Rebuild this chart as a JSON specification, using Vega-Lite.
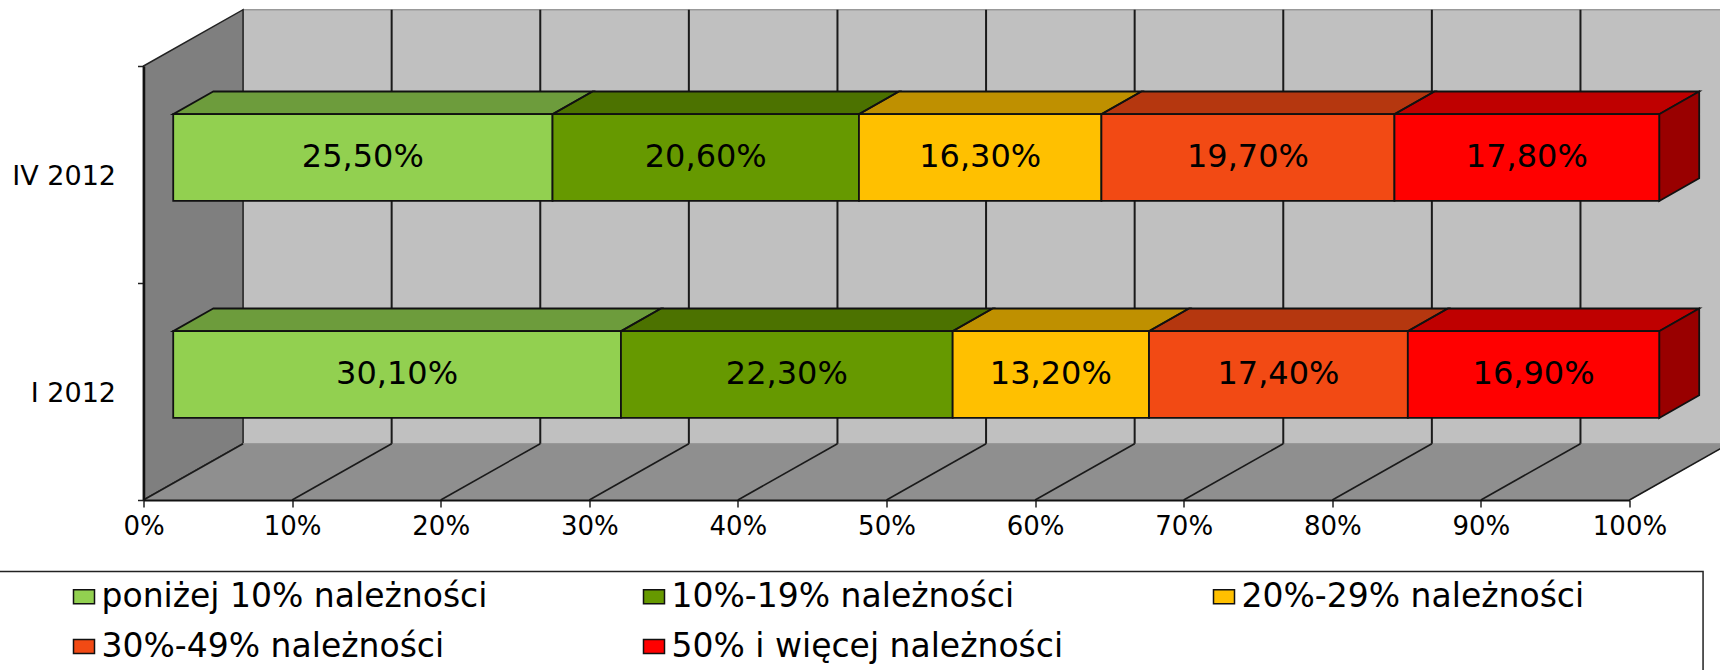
{
"$schema":"https://vega.github.io/schema/vega-lite/v6.json",
"autosize":{"type":"none"},
"width":1486,"height":434,
"padding":{"left":143.5,"top":66,"right":90.5,"bottom":170},
"background":"#ffffff",
"config":{"view":{"stroke":null},"font":"DejaVu Sans"},
"datasets":{
"gleb":[{"g":0},{"g":1}],
"siatka":[{"p":0},{"p":10},{"p":20},{"p":30},{"p":40},{"p":50},{"p":60},{"p":70},{"p":80},{"p":90},{"p":100}],
"udzialy":[
{"okres":"IV 2012","lp":1,"kategoria":"poniżej 10% należności","udzial":25.5},
{"okres":"IV 2012","lp":2,"kategoria":"10%-19% należności","udzial":20.6},
{"okres":"IV 2012","lp":3,"kategoria":"20%-29% należności","udzial":16.3},
{"okres":"IV 2012","lp":4,"kategoria":"30%-49% należności","udzial":19.7},
{"okres":"IV 2012","lp":5,"kategoria":"50% i więcej należności","udzial":17.8},
{"okres":"I 2012","lp":1,"kategoria":"poniżej 10% należności","udzial":30.1},
{"okres":"I 2012","lp":2,"kategoria":"10%-19% należności","udzial":22.3},
{"okres":"I 2012","lp":3,"kategoria":"20%-29% należności","udzial":13.2},
{"okres":"I 2012","lp":4,"kategoria":"30%-49% należności","udzial":17.4},
{"okres":"I 2012","lp":5,"kategoria":"50% i więcej należności","udzial":16.9}
]},
"layer":[
{"data":{"values":[{}]},
 "mark":{"type":"rect","fill":"#c0c0c0","stroke":"#999999","strokeWidth":1.5},
 "encoding":{
  "x":{"datum":6.7,"type":"quantitative","scale":{"domain":[0,100],"nice":false,"zero":false},
   "axis":{"title":null,"values":[0,10,20,30,40,50,60,70,80,90,100],"labelExpr":"datum.value+'%'","labelFont":"DejaVu Sans","labelFontSize":26,"labelColor":"#000000","labelPadding":6,"labelFlush":false,"tickSize":7,"tickColor":"#222222","tickWidth":1.5,"domainColor":"#111111","domainWidth":2,"grid":false,"zindex":1}},
  "x2":{"datum":106.7},
  "y":{"datum":0.2594,"type":"quantitative","scale":{"domain":[0,2],"nice":false,"zero":false},
   "axis":{"title":null,"values":[0,0.5,1,1.5,2],"labelExpr":"datum.value==1.5?'IV 2012':datum.value==0.5?'I 2012':''","labelFont":"DejaVu Sans","labelFontSize":27,"labelColor":"#000000","labelPadding":22,"labelOffset":2,"tickSize":6,"tickColor":"#222222","tickWidth":1.5,"tickOpacity":{"condition":{"test":"datum.value%1!==0","value":0},"value":1},"domainColor":"#111111","domainWidth":2.5,"grid":false,"zindex":1}},
  "y2":{"datum":2.2594}
 }},
{"data":{"name":"gleb"},
 "transform":[{"calculate":"datum.g*6.7","as":"x"},{"calculate":"datum.g*0.2594","as":"y"},{"calculate":"2+datum.g*0.2594","as":"y2"}],
 "mark":{"type":"area","orient":"vertical","fill":"#7f7f7f","stroke":"#222222","strokeWidth":1.5,"opacity":1},
 "encoding":{"x":{"field":"x","type":"quantitative","axis":{"title":null}},"y":{"field":"y","type":"quantitative","axis":{"title":null},"stack":null},"y2":{"field":"y2"}}},
{"data":{"name":"gleb"},
 "transform":[{"calculate":"datum.g*6.7","as":"x"},{"calculate":"100+datum.g*6.7","as":"x2"},{"calculate":"datum.g*0.2594","as":"y"}],
 "mark":{"type":"area","orient":"horizontal","fill":"#8f8f8f","stroke":"#999999","strokeWidth":1,"opacity":1},
 "encoding":{"x":{"field":"x","type":"quantitative","axis":{"title":null},"stack":null},"x2":{"field":"x2"},"y":{"field":"y","type":"quantitative","axis":{"title":null}}}},
{"data":{"name":"siatka"},
 "transform":[{"calculate":"datum.p+6.7","as":"px"}],
 "mark":{"type":"rule","color":"#1a1a1a","strokeWidth":1.6},
 "encoding":{"x":{"field":"p","type":"quantitative","axis":{"title":null}},"x2":{"field":"px"},"y":{"datum":0,"type":"quantitative","axis":{"title":null}},"y2":{"datum":0.2594}}},
{"data":{"name":"siatka"},
 "transform":[{"calculate":"datum.p+6.7","as":"px"},{"filter":"datum.p>0"}],
 "mark":{"type":"rule","color":"#1a1a1a","strokeWidth":2},
 "encoding":{"x":{"field":"px","type":"quantitative","axis":{"title":null}},"y":{"datum":0.2594,"type":"quantitative","axis":{"title":null}},"y2":{"datum":2.2594}}},
{"data":{"values":[{}]},
 "mark":{"type":"rect","fill":"#ffffff","stroke":"#222222","strokeWidth":1.5},
 "encoding":{"x":{"datum":-12,"type":"quantitative","axis":{"title":null}},"x2":{"datum":104.95},"y":{"datum":-0.33,"type":"quantitative","axis":{"title":null}},"y2":{"datum":-1}}},
{"data":{"name":"udzialy"},
 "transform":[
  {"stack":"udzial","groupby":["okres"],"offset":"normalize","sort":[{"field":"lp","order":"ascending"}],"as":["u0","u1"]},
  {"calculate":"2+datum.u0*100","as":"xa"},
  {"calculate":"2+datum.u1*100","as":"xb"},
  {"calculate":"(datum.okres=='IV 2012'?1:0)+0.378","as":"yb"},
  {"calculate":"datum.yb+0.4","as":"yt"},
  {"calculate":"[0,1]","as":"e"},
  {"flatten":["e"]},
  {"calculate":"datum.xa+datum.e*2.69","as":"txa"},
  {"calculate":"datum.xb+datum.e*2.69","as":"txb"},
  {"calculate":"datum.yt+datum.e*0.1046","as":"ty"},
  {"calculate":"datum.xb+datum.e*2.69","as":"sx"},
  {"calculate":"datum.yb+datum.e*0.1046","as":"sb"},
  {"calculate":"datum.yt+datum.e*0.1046","as":"st"},
  {"calculate":"(datum.xa+datum.xb)/2","as":"xm"},
  {"calculate":"(datum.yb+datum.yt)/2","as":"ym"},
  {"calculate":"replace(format(datum.udzial,'.2f'),'.',',')+'%'","as":"etykieta"}
 ],
 "layer":[
 {"mark":{"type":"area","orient":"horizontal","opacity":1},
  "encoding":{"x":{"field":"txa","type":"quantitative","axis":{"title":null},"stack":null},"x2":{"field":"txb"},"y":{"field":"ty","type":"quantitative","axis":{"title":null}},"detail":{"field":"okres"},
   "color":{"field":"kategoria","type":"nominal","legend":{"title":null}}}},
 {"mark":{"type":"area","orient":"horizontal","opacity":1,"fill":"#000000","fillOpacity":0.25,"stroke":"#111111","strokeWidth":1.8},
  "encoding":{"x":{"field":"txa","type":"quantitative","axis":{"title":null},"stack":null},"x2":{"field":"txb"},"y":{"field":"ty","type":"quantitative","axis":{"title":null}},"detail":[{"field":"okres"},{"field":"kategoria"}]}},
 {"transform":[{"filter":"datum.lp==5"}],
  "mark":{"type":"area","orient":"vertical","opacity":1,"fill":"#990000","stroke":"#111111","strokeWidth":1.8},
  "encoding":{"x":{"field":"sx","type":"quantitative","axis":{"title":null}},"y":{"field":"sb","type":"quantitative","axis":{"title":null},"stack":null},"y2":{"field":"st"},"detail":{"field":"okres"}}},
 {"transform":[{"filter":"datum.e==0"}],
  "mark":{"type":"rect","stroke":"#111111","strokeWidth":1.8},
  "encoding":{"x":{"field":"xa","type":"quantitative","axis":{"title":null}},"x2":{"field":"xb"},"y":{"field":"yb","type":"quantitative","axis":{"title":null}},"y2":{"field":"yt"},
   "color":{"field":"kategoria","type":"nominal",
    "scale":{"domain":["poniżej 10% należności","10%-19% należności","20%-29% należności","30%-49% należności","50% i więcej należności"],"range":["#92d050","#669900","#ffc000","#f24a14","#ff0000"]},
    "legend":{"title":null,"orient":"none","direction":"horizontal","legendX":-76,"legendY":514,"columns":3,"gridAlign":"all","columnPadding":144,"rowPadding":16,"symbolType":"M-1,-0.66H1V0.66H-1Z","symbolSize":441,"symbolStrokeColor":"#111111","symbolStrokeWidth":1.5,"symbolOpacity":1,"labelFont":"DejaVu Sans","labelFontSize":33,"labelColor":"#000000","labelOffset":1,"labelLimit":500,"padding":0}}}},
 {"transform":[{"filter":"datum.e==0"}],
  "mark":{"type":"text","font":"DejaVu Sans","fontSize":32,"color":"#000000","dy":-1},
  "encoding":{"x":{"field":"xm","type":"quantitative","axis":{"title":null}},"y":{"field":"ym","type":"quantitative","axis":{"title":null}},"text":{"field":"etykieta"}}}
 ]}
]}
